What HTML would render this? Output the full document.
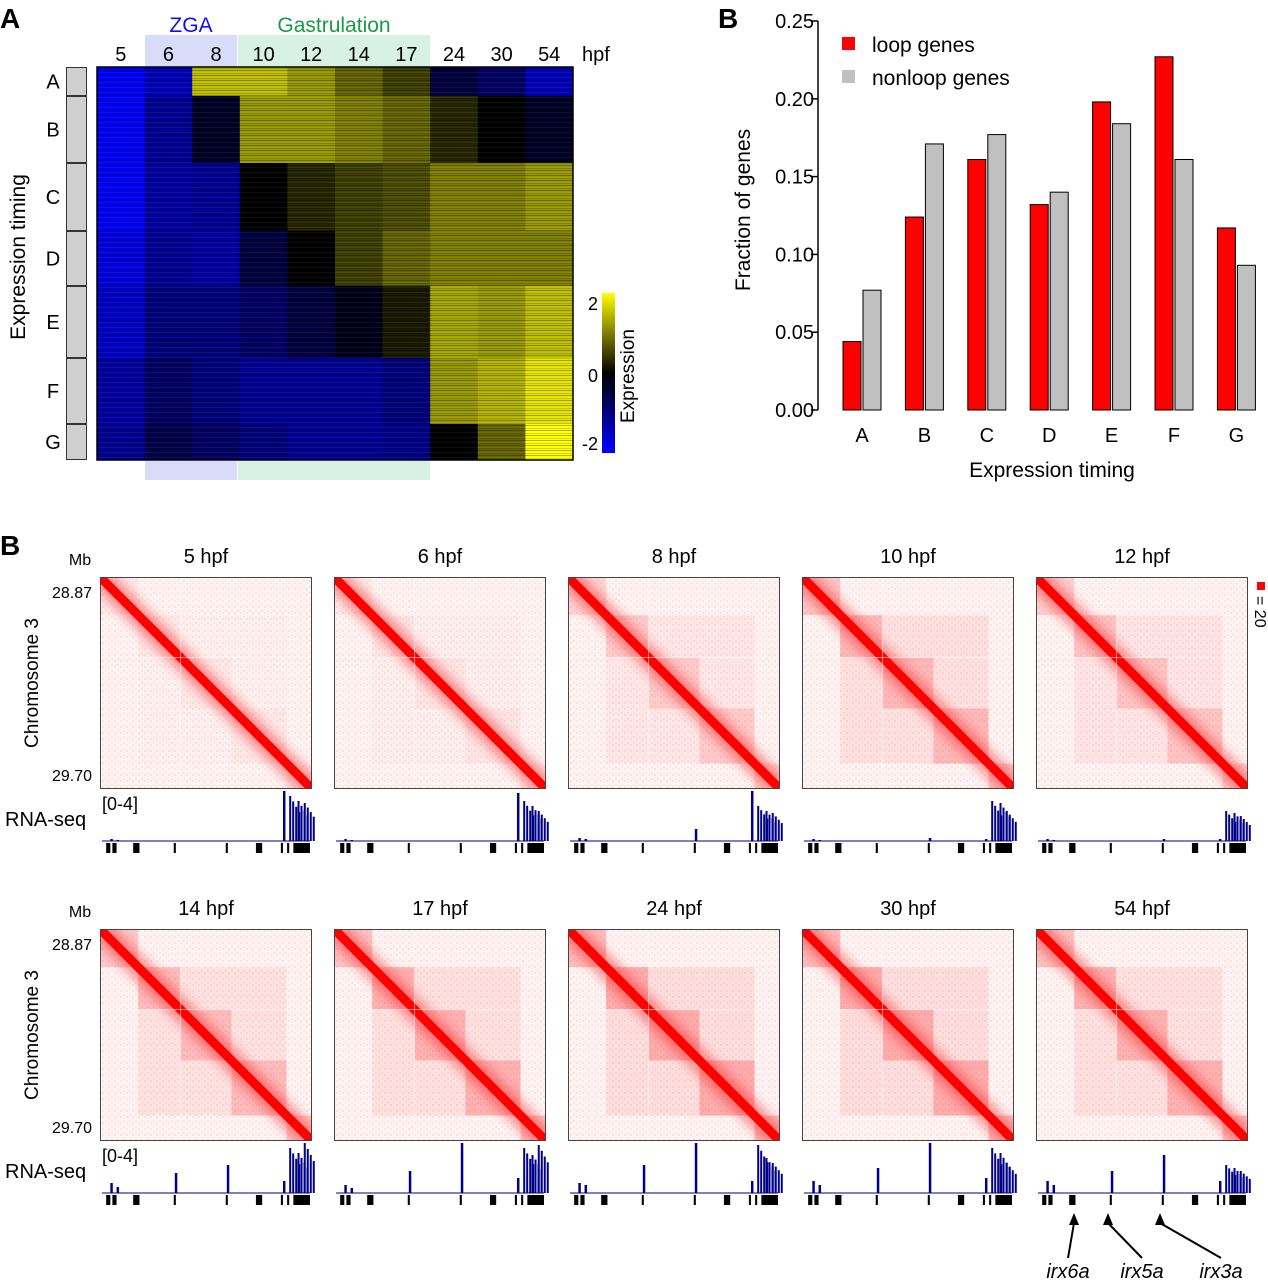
<!DOCTYPE html>
<html><head><meta charset="utf-8"><style>
body{margin:0;background:#fff}
svg{display:block;font-family:"Liberation Sans",sans-serif}
</style></head><body>
<svg id="fig" width="1268" height="1280" viewBox="0 0 1268 1280">
<defs>
<linearGradient id="cbar" x1="0" y1="1" x2="0" y2="0">
<stop offset="0" stop-color="#0000ff"/><stop offset="0.5" stop-color="#000"/><stop offset="1" stop-color="#ffff00"/>
</linearGradient>
<pattern id="stripes" width="4" height="5" patternUnits="userSpaceOnUse">
<rect y="0" width="4" height="1" fill="#000" opacity="0.3"/><rect y="2" width="4" height="1" fill="#fff" opacity="0.06"/><rect y="3" width="4" height="1" fill="#000" opacity="0.15"/>
</pattern>
<pattern id="speck" width="6" height="6" patternUnits="userSpaceOnUse">
<rect x="0" y="0" width="2" height="2" fill="#ff0000" opacity="0.08"/><rect x="3" y="4" width="2" height="2" fill="#ff0000" opacity="0.06"/>
</pattern>
<filter id="blur" x="-20%" y="-20%" width="140%" height="140%"><feGaussianBlur stdDeviation="5"/></filter>
</defs>
<g id="panelA"></g>
<g id="panelB"></g>
<g id="panelC"></g>
</svg>
<script>
// ---- Panel A data ----
const hmCols=['5','6','8','10','12','14','17','24','30','54'];
const hmGroups=['A','B','C','D','E','F','G'];
const hmGroupSizes=[29,67,68,55,72,66,36];
const hmA=[-2,-1.5,1.5,1.5,1.2,0.8,0.5,-0.5,-0.8,-1.5];
const hmB=[-2,-1.2,-0.3,1.2,1.2,1.0,0.8,0.3,0,-0.3];
const hmC=[-2,-1.3,-1.2,0,0.3,0.5,0.6,1.0,1.0,1.2];
const hmD=[-1.8,-1.2,-1.3,-0.5,0,0.5,0.8,1.0,1.0,1.0];
const hmE=[-1.6,-1.0,-1.0,-0.8,-0.5,-0.2,0.2,1.3,1.2,1.5];
const hmF=[-1.3,-0.8,-1.0,-1.2,-1.2,-1.2,-1.0,1.2,1.4,1.8];
const hmG=[-1.2,-0.6,-0.8,-1.0,-1.2,-1.2,-1.1,0,0.8,2];
const hmVals=[hmA,hmB,hmC,hmD,hmE,hmF,hmG];
// ---- Panel B bar data ----
const barCats=['A','B','C','D','E','F','G'];
const loopVals=[0.044,0.124,0.161,0.132,0.198,0.227,0.117];
const nonloopVals=[0.077,0.171,0.177,0.140,0.184,0.161,0.093];
const yTicks=[0,0.05,0.10,0.15,0.20,0.25];
const yTickLabels=['0.00','0.05','0.10','0.15','0.20','0.25'];
// ---- Hi-C data ----
const stages=['5','6','8','10','12','14','17','24','30','54'];
const tadStrength=[0.03,0.04,0.12,0.18,0.14,0.17,0.2,0.22,0.22,0.2];
const tadBounds=[0,0.18,0.38,0.62,0.88,1];
const peakPos=[0.04,0.07,0.35,0.6,0.87,0.9,0.94,0.97];
const peakH=[[2,1,0,0,50,45,40,38],[2,1,0,0,48,40,35,30],[3,2,0,12,50,35,30,28],[2,1,0,3,2,40,38,30],[2,1,0,2,2,30,28,25],[10,6,20,28,12,45,40,50],[8,5,22,50,15,45,38,48],[10,8,28,50,12,48,35,30],[12,8,25,50,15,45,40,30],[12,8,22,38,12,28,25,22]];
const geneBlocks=[[0.02,0.04],[0.05,0.07],[0.15,0.18],[0.345,0.355],[0.595,0.605],[0.74,0.77],[0.86,0.87],[0.89,0.9],[0.92,1.0]];

const NS='http://www.w3.org/2000/svg';
function mk(parent,tag,attrs,text){const e=document.createElementNS(NS,tag);for(const k in attrs)e.setAttribute(k,attrs[k]);if(text!==undefined)e.textContent=text;parent.appendChild(e);return e;}
function col(v){const t=Math.max(-1,Math.min(1,v/2));if(t<0){return `rgb(0,0,${Math.round(-t*255)})`;}const c=Math.round(t*255);return `rgb(${c},${c},0)`;}

// ================= Panel A =================
const A=document.getElementById('panelA');
let t;
t=mk(A,'text',{x:0,y:28,'font-size':28,'font-weight':'bold'},'A');
const hx0=97,hx1=573,hy0=67,hy1=460,cw=(hx1-hx0)/hmCols.length;
const totalRows=hmGroupSizes.reduce((a,b)=>a+b,0);
const rowY=v=>hy0+(hy1-hy0)*v/totalRows;
let r=mk(A,'rect',{x:145,y:35,width:92,height:32,fill:'#d9dcf9'});
r=mk(A,'rect',{x:238,y:35,width:192,height:32,fill:'#d8f1e6'});
r=mk(A,'rect',{x:145,y:461,width:92,height:19,fill:'#d9dcf9'});
r=mk(A,'rect',{x:238,y:461,width:192,height:19,fill:'#d8f1e6'});
t=mk(A,'text',{x:191,y:32,'font-size':21,fill:'#1010ee','text-anchor':'middle'},'ZGA');
t=mk(A,'text',{x:334,y:32,'font-size':21,fill:'#1a9a4a','text-anchor':'middle'},'Gastrulation');
hmCols.forEach((c,i)=>{const e=mk(A,'text',{x:hx0+cw*(i+0.5),y:61,'font-size':20,'text-anchor':'middle'},c);});
t=mk(A,'text',{x:582,y:61,'font-size':20},'hpf');
let cum=0;
hmGroups.forEach((g,gi)=>{
  const ya=rowY(cum),yb=rowY(cum+hmGroupSizes[gi]);cum+=hmGroupSizes[gi];
  hmVals[gi].forEach((v,ci)=>{const e=mk(A,'rect',{x:hx0+cw*ci,y:ya,width:cw+0.5,height:yb-ya+0.5,fill:col(v)});});
  const b=mk(A,'rect',{x:66.5,y:ya+0.5,width:20,height:yb-ya-1,fill:'#cfcfcf',stroke:'#333','stroke-width':1});
  const l=mk(A,'text',{x:53,y:(ya+yb)/2+7,'font-size':20,'text-anchor':'middle'},g);
});
r=mk(A,'rect',{x:hx0,y:hy0,width:hx1-hx0,height:hy1-hy0,fill:'url(#stripes)'});
r=mk(A,'rect',{x:hx0,y:hy0,width:hx1-hx0,height:hy1-hy0,fill:'none',stroke:'#000','stroke-width':1.5});
t=mk(A,'text',{x:0,y:0,'font-size':21,'text-anchor':'middle',transform:'translate(25,257) rotate(-90)'},'Expression timing');
r=mk(A,'rect',{x:602,y:293,width:13,height:160,fill:'url(#cbar)'});
[['2',310],['0',382],['-2',450]].forEach(([s,y])=>{const e=mk(A,'text',{x:598,y:y,'font-size':18,'text-anchor':'end'},s);});
t=mk(A,'text',{x:0,y:0,'font-size':19,'text-anchor':'middle',transform:'translate(634,376) rotate(-90)'},'Expression');

// ================= Panel B bars =================
const B=document.getElementById('panelB');
t=mk(B,'text',{x:718,y:28,'font-size':28,'font-weight':'bold'},'B');
const by0=410,by1=21,bx=818;
const yS=v=>by0-(by0-by1)*v/0.25;
const xC=i=>862+62.4*i;
let ax=mk(B,'line',{x1:bx,y1:yS(0),x2:bx,y2:yS(0.25),stroke:'#000','stroke-width':1.5});
yTicks.forEach((v,i)=>{const l=mk(B,'line',{x1:bx-7,y1:yS(v),x2:bx,y2:yS(v),stroke:'#000','stroke-width':1.5});
 const e=mk(B,'text',{x:bx-4,y:yS(v)+7,'font-size':20,'text-anchor':'end'},yTickLabels[i]);});
barCats.forEach((c,i)=>{
 const a=mk(B,'rect',{x:xC(i)-19,y:yS(loopVals[i]),width:18,height:yS(0)-yS(loopVals[i]),fill:'#ff0000',stroke:'#000','stroke-width':1});
 const b=mk(B,'rect',{x:xC(i)+1,y:yS(nonloopVals[i]),width:18,height:yS(0)-yS(nonloopVals[i]),fill:'#c0c0c0',stroke:'#000','stroke-width':1});
 const e=mk(B,'text',{x:xC(i),y:442,'font-size':20,'text-anchor':'middle'},c);
});
t=mk(B,'text',{x:1052,y:477,'font-size':21,'text-anchor':'middle'},'Expression timing');
t=mk(B,'text',{x:0,y:0,'font-size':21,'text-anchor':'middle',transform:'translate(750,210) rotate(-90)'},'Fraction of genes');
r=mk(B,'rect',{x:842,y:37,width:13,height:13,fill:'#ff0000'});
t=mk(B,'text',{x:872,y:52,'font-size':21},'loop genes');
r=mk(B,'rect',{x:842,y:70,width:13,height:13,fill:'#c0c0c0'});
t=mk(B,'text',{x:872,y:85,'font-size':21},'nonloop genes');

// ================= Hi-C panel =================
const C=document.getElementById('panelC');
t=mk(C,'text',{x:0,y:555,'font-size':28,'font-weight':'bold'},'B');
const mapX=[100,334,568,802,1036],rowTop=[577,929],S=212;
rowTop.forEach((y0,ri)=>{
 let e=mk(C,'text',{x:80,y:y0-12,'font-size':16,'text-anchor':'middle'},'Mb');
 e=mk(C,'text',{x:92,y:y0+21,'font-size':16,'text-anchor':'end'},'28.87');
 e=mk(C,'text',{x:92,y:y0+204,'font-size':16,'text-anchor':'end'},'29.70');
 e=mk(C,'text',{x:0,y:0,'font-size':19,'text-anchor':'middle',transform:`translate(38,${y0+106}) rotate(-90)`},'Chromosome 3');
 e=mk(C,'text',{x:5,y:y0+249,'font-size':20},'RNA-seq');
 e=mk(C,'text',{x:102,y:y0+233,'font-size':18},'[0-4]');
});
stages.forEach((s,si)=>{
 const ri=Math.floor(si/5),x0=mapX[si%5],y0=rowTop[ri];
 const g=mk(C,'g',{});
 const cid='clip'+si;const cp=mk(g,'clipPath',{id:cid});mk(cp,'rect',{x:x0,y:y0,width:S,height:S});
 const inner=mk(g,'g',{'clip-path':`url(#${cid})`});
 mk(inner,'rect',{x:x0,y:y0,width:S,height:S,fill:'#fdf3f3'});
 mk(inner,'rect',{x:x0,y:y0,width:S,height:S,fill:'url(#speck)'});
 for(let k=0;k<tadBounds.length-1;k++){const a=tadBounds[k],b=tadBounds[k+1];
  const d=mk(inner,'rect',{x:x0+a*S,y:y0+a*S,width:(b-a)*S,height:(b-a)*S,fill:'#ff0000',opacity:tadStrength[si]});}
 const d2=mk(inner,'rect',{x:x0+tadBounds[1]*S,y:y0+tadBounds[1]*S,width:(tadBounds[4]-tadBounds[1])*S,height:(tadBounds[4]-tadBounds[1])*S,fill:'#ff0000',opacity:tadStrength[si]*0.4});
 mk(inner,'line',{x1:x0,y1:y0,x2:x0+S,y2:y0+S,stroke:'#ff2020','stroke-width':22,opacity:0.45,filter:'url(#blur)'});
 const dg=mk(inner,'line',{x1:x0,y1:y0,x2:x0+S,y2:y0+S,stroke:'#ff0000','stroke-width':9});
 mk(inner,'line',{x1:x0,y1:y0+S*0.38,x2:x0+S,y2:y0+S*0.38,stroke:'#fff','stroke-width':1,opacity:0.5});
 mk(inner,'line',{x1:x0+S*0.38,y1:y0,x2:x0+S*0.38,y2:y0+S,stroke:'#fff','stroke-width':1,opacity:0.5});
 mk(g,'rect',{x:x0+0.5,y:y0+0.5,width:S-1,height:S-1,fill:'none',stroke:'#444','stroke-width':1});
 const tt=mk(C,'text',{x:x0+S/2,y:y0-14,'font-size':20,'text-anchor':'middle'},s+' hpf');
 // RNA-seq track
 const base=y0+264,tx=x0+2,tw=S-4;
 const bl=mk(C,'line',{x1:tx,y1:base,x2:tx+tw,y2:base,stroke:'#00008b','stroke-width':1});
 peakPos.forEach((p,k)=>{const h=peakH[si][k];if(h<=0)return;const w=(k>=5)?2:2.5;
  const n=(k>=5)?4:1;
  for(let q=0;q<n;q++){const pk=mk(C,'rect',{x:tx+p*tw+q*3,y:base-h*(1-q*0.12),width:w,height:h*(1-q*0.12),fill:'#00008b'});}});
 geneBlocks.forEach(([a,b])=>{const gb=mk(C,'rect',{x:tx+a*tw,y:base+2,width:Math.max(2,(b-a)*tw),height:10,fill:'#000'});});
});
r=mk(C,'rect',{x:1257,y:582,width:8,height:8,fill:'#ff0000'});
t=mk(C,'text',{x:0,y:0,'font-size':16,transform:'translate(1255,596) rotate(90)'},'= 20');
[['irx6a',1068,1074,1213],['irx5a',1142,1108,1213],['irx3a',1221,1160,1213]].forEach(([n,lx,ax2,ay])=>{
 const p=mk(C,'path',{d:`M${lx},1258 L${ax2},${ay+10}`,stroke:'#000','stroke-width':2,fill:'none'});
 const h=mk(C,'polygon',{points:`${ax2},${ay} ${ax2-5},${ay+12} ${ax2+5},${ay+12}`,fill:'#000'});
 const e=mk(C,'text',{x:lx,y:1278,'font-size':20,'font-style':'italic','text-anchor':'middle'},n);
});
</script>
</body></html>
